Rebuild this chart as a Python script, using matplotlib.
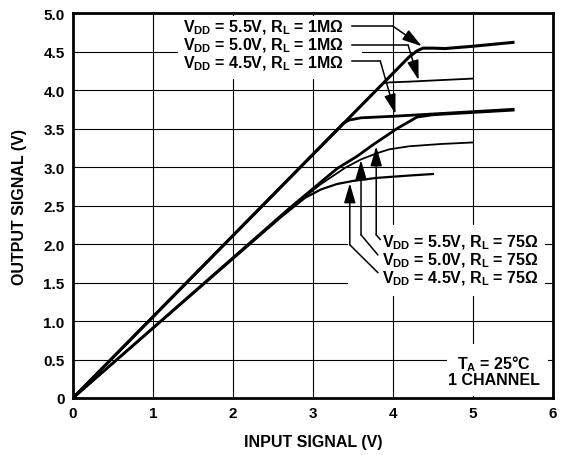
import numpy as np
import matplotlib
matplotlib.use('Agg')
import matplotlib.pyplot as plt
from matplotlib.patches import Rectangle

plt.rcParams['font.family'] = ['Liberation Sans', 'DejaVu Sans']
plt.rcParams['font.weight'] = 'bold'
plt.rcParams['mathtext.fontset'] = 'custom'
plt.rcParams['mathtext.rm'] = 'Liberation Sans:bold'
plt.rcParams['mathtext.bf'] = 'Liberation Sans:bold'
plt.rcParams['mathtext.default'] = 'rm'

# 读出的曲线数据 (输入电压, 输出电压)
x_1m_55 = [0, 4.2, 4.3, 4.375, 4.5, 4.65, 5.0, 5.5]
y_1m_55 = [0, 4.43, 4.51, 4.545, 4.545, 4.54, 4.57, 4.62]
x_1m_50 = [0, 3.88, 3.95, 4.2, 4.6, 5.0]
y_1m_50 = [0, 4.09, 4.10, 4.11, 4.13, 4.15]
x_1m_45 = [0, 3.38, 3.45, 3.6, 4.0, 4.5, 5.0, 5.5]
y_1m_45 = [0, 3.57, 3.61, 3.64, 3.66, 3.69, 3.72, 3.75]

x_75_55 = [0, 2.7, 3.0, 3.3, 3.55, 3.75, 4.05, 4.3, 4.5, 5.0, 5.5]
y_75_55 = [0, 2.46, 2.72, 2.98, 3.14, 3.29, 3.50, 3.65, 3.68, 3.71, 3.74]
x_75_50 = [0, 2.7, 3.1, 3.4, 3.6, 3.8, 3.95, 4.2, 4.6, 5.0]
y_75_50 = [0, 2.45, 2.78, 2.99, 3.10, 3.18, 3.23, 3.27, 3.30, 3.32]
x_75_45 = [0, 2.6, 2.9, 3.1, 3.3, 3.5, 3.8, 4.2, 4.5]
y_75_45 = [0, 2.35, 2.60, 2.71, 2.78, 2.82, 2.86, 2.89, 2.91]

xticks = [0, 1, 2, 3, 4, 5, 6]
xticklabels = ['0', '1', '2', '3', '4', '5', '6']
yticks = [0, 0.5, 1.0, 1.5, 2.0, 2.5, 3.0, 3.5, 4.0, 4.5, 5.0]
yticklabels = ['0', '0.5', '1.0', '1.5', '2.0', '2.5', '3.0', '3.5', '4.0', '4.5', '5.0']

fig = plt.figure(figsize=(5.65, 4.56), dpi=100)
ax = fig.add_axes([0.1292, 0.125, 0.8496, 0.844])

ax.set_xlim(0, 6)
ax.set_ylim(0, 5)
ax.set_xticks(xticks)
ax.set_xticklabels(xticklabels)
ax.set_yticks(yticks)
ax.set_yticklabels(yticklabels)
ax.tick_params(length=0, labelsize=11, pad=6)
ax.grid(True, color='black', lw=0.8)
ax.set_axisbelow(True)
for s in ax.spines.values():
    s.set_linewidth(2.0)

# 文字区域的白色底
for (x0, y0, w, h) in [(1.31, 4.14, 2.30, 0.82), (3.44, 1.32, 2.46, 0.93), (4.68, 0.02, 1.26, 0.68)]:
    ax.add_patch(Rectangle((x0, y0), w, h, facecolor='white', edgecolor='none', zorder=1))

# 曲线
ax.plot(x_1m_55, y_1m_55, color='black', lw=2.2, zorder=3)
ax.plot(x_1m_50, y_1m_50, color='black', lw=1.3, zorder=3)
ax.plot(x_1m_45, y_1m_45, color='black', lw=2.0, zorder=3)
ax.plot(x_75_55, y_75_55, color='black', lw=2.0, zorder=3)
ax.plot(x_75_50, y_75_50, color='black', lw=1.3, zorder=3)
ax.plot(x_75_45, y_75_45, color='black', lw=1.6, zorder=3)

fs = 11.5
arrow = dict(arrowstyle='-|>,head_length=0.75,head_width=0.22', color='black', lw=1.1,
             shrinkA=0, shrinkB=0, mutation_scale=16)

# 1MΩ 标注
labels_1m = [r'V$_{DD}$ = 5.5V, R$_{L}$ = 1MΩ',
             r'V$_{DD}$ = 5.0V, R$_{L}$ = 1MΩ',
             r'V$_{DD}$ = 4.5V, R$_{L}$ = 1MΩ']
for lab, yb in zip(labels_1m, [4.765, 4.525, 4.29]):
    ax.text(1.375, yb, lab, fontsize=fs, fontweight='bold', va='baseline', ha='left', zorder=4)

ax.plot([3.49, 4.0], [4.83, 4.83], color='black', lw=1.1, zorder=4)
ax.annotate('', xy=(4.36, 4.57), xytext=(4.0, 4.83), arrowprops=arrow, zorder=4)
ax.plot([3.49, 4.19], [4.58, 4.58], color='black', lw=1.1, zorder=4)
ax.annotate('', xy=(4.32, 4.13), xytext=(4.19, 4.58), arrowprops=arrow, zorder=4)
ax.plot([3.49, 3.84], [4.38, 4.38], color='black', lw=1.1, zorder=4)
ax.annotate('', xy=(4.03, 3.69), xytext=(3.84, 4.38), arrowprops=arrow, zorder=4)

# 75Ω 标注
labels_75 = [r'V$_{DD}$ = 5.5V, R$_{L}$ = 75Ω',
             r'V$_{DD}$ = 5.0V, R$_{L}$ = 75Ω',
             r'V$_{DD}$ = 4.5V, R$_{L}$ = 75Ω']
for lab, yb in zip(labels_75, [1.97, 1.735, 1.50]):
    ax.text(3.86, yb, lab, fontsize=fs, fontweight='bold', va='baseline', ha='left', zorder=4)

ax.plot([3.84, 3.79], [2.06, 2.12], color='black', lw=1.1, zorder=4)
ax.annotate('', xy=(3.79, 3.27), xytext=(3.79, 2.12), arrowprops=arrow, zorder=4)
ax.plot([3.81, 3.60], [1.86, 2.12], color='black', lw=1.1, zorder=4)
ax.annotate('', xy=(3.60, 3.09), xytext=(3.60, 2.12), arrowprops=arrow, zorder=4)
ax.plot([3.81, 3.46], [1.63, 1.99], color='black', lw=1.1, zorder=4)
ax.annotate('', xy=(3.46, 2.79), xytext=(3.46, 1.99), arrowprops=arrow, zorder=4)

ax.text(5.26, 0.38, r'T$_{A}$ = 25°C', fontsize=fs, fontweight='bold', ha='center', va='baseline', zorder=4)
ax.text(5.26, 0.18, '1 CHANNEL', fontsize=fs, fontweight='bold', ha='center', va='baseline', zorder=4)

ax.set_xlabel('INPUT SIGNAL (V)', fontsize=11.5, fontweight='bold', labelpad=10)
ax.set_ylabel('OUTPUT SIGNAL (V)', fontsize=11.5, fontweight='bold', labelpad=12)

fig.savefig('out.png', dpi=100)
